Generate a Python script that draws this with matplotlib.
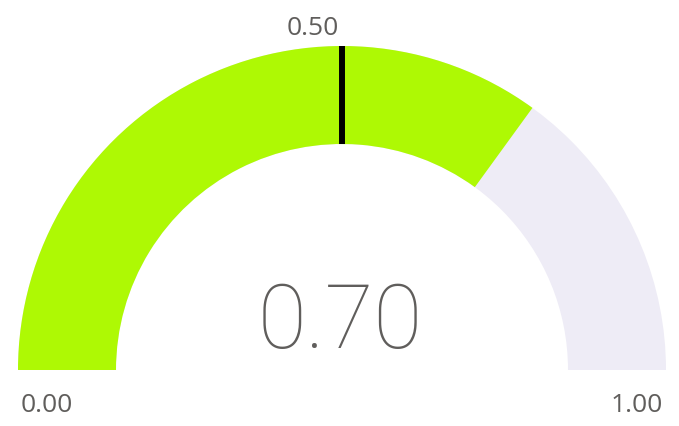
import matplotlib
matplotlib.use("Agg")
import matplotlib.pyplot as plt
from matplotlib.patches import Wedge
import numpy as np

# gauge data
value = 0.70
target = 0.50
gauge_min = 0.00
gauge_max = 1.00
value_label = "0.70"
min_label = "0.00"
max_label = "1.00"
target_label = "0.50"

W, H = 679, 426
fig = plt.figure(figsize=(W / 100, H / 100), dpi=100)
ax = fig.add_axes([0, 0, 1, 1])
ax.set_xlim(0, W)
ax.set_ylim(0, H)
ax.axis("off")

cx, cy = 342, 56  # centre of the arc (pixels, y up)
r_out, r_in = 324, 226

def to_angle(v):
    return 180 - 180 * (v - gauge_min) / (gauge_max - gauge_min)

# background track and filled part
ax.add_patch(Wedge((cx, cy), r_out, 0, 180, width=r_out - r_in, color="#EEECF6", lw=0))
ax.add_patch(Wedge((cx, cy), r_out, to_angle(value), 180, width=r_out - r_in, color="#AEF904", lw=0))

# target marker
a = np.radians(to_angle(target))
ax.plot([cx + r_in * np.cos(a), cx + r_out * np.cos(a)],
        [cy + r_in * np.sin(a), cy + r_out * np.sin(a)], color="black", lw=4.3, solid_capstyle="butt")

txt = "#605E5C"
small = dict(fontsize=19, color=txt, family="Open Sans", ha="center", va="baseline")
ax.text(47, 14, min_label, **small)
ax.text(637, 14, max_label, **small)
ax.text(313, 391, target_label, **small)

ax.text(cx - 2, 78, value_label, fontsize=64, color=txt, family="Roboto", fontweight="light",
        ha="center", va="baseline")

fig.savefig("out.png", dpi=100)
